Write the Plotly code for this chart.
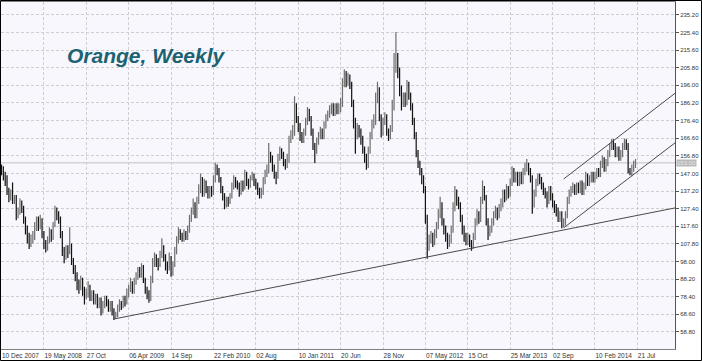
import pandas as pd
import plotly.graph_objects as go

# ---------------- data (weekly Orange juice) ----------------
start_date = "2007-12-10"
n_weeks = 345

opens = [
    150,148,146,142,137,134,136,132,133,124,126,130,127,121,116,112,108,110,112,117,120,118,121,
    113,108,106,110,114,111,118,126,124,122,113,104,101,105,103,107,98,94,90,86,84,88,82,
    79,80,84,78,80,76,78,74,76,71,74,77,75,72,74,70,67,68,72,74,73,77,75,
    80,83,86,82,87,90,93,91,95,88,82,80,77,88,97,100,98,96,102,106,100,96,95,
    100,92,96,104,110,114,112,111,113,112,116,122,126,130,124,132,138,144,136,142,138,135,138,
    137,144,150,148,144,138,134,130,132,131,134,140,143,141,140,136,141,140,146,142,140,144,146,
    142,140,137,135,137,143,147,149,158,155,150,146,145,156,160,157,153,151,155,166,168,170,185,
    178,172,168,166,170,176,182,178,170,162,160,165,168,170,168,174,178,180,182,184,181,184,182,
    183,186,198,202,198,200,196,186,176,168,172,170,166,160,156,152,160,168,174,176,190,194,178,
    170,176,178,170,168,172,184,206,212,204,194,186,190,186,196,190,184,176,168,158,152,148,144,
    138,122,106,110,112,109,113,118,124,130,120,116,112,108,110,116,128,136,132,130,122,116,112,
    110,112,108,106,112,120,124,122,132,138,134,120,114,116,120,124,126,124,128,130,136,134,138,
    136,142,148,144,146,142,146,143,148,150,152,148,144,130,136,142,145,143,140,137,135,132,138,
    134,130,128,126,122,124,118,120,124,132,136,138,139,137,140,138,141,137,140,146,142,144,146,
    144,146,148,147,152,154,150,153,158,162,164,162,158,160,156,158,162,164,162,148,147,150,152,
]
highs = [
    152,151,148,146,139,138,142,135,135,128,133,132,129,123,118,114,113,115,120,123,123,124,122,
    115,110,112,117,116,120,129,128,126,123,115,106,107,107,117,108,100,96,92,88,90,89,84,
    83,87,85,82,82,80,80,78,78,76,79,79,77,76,76,72,70,74,77,76,79,79,83,
    85,89,87,89,92,95,95,97,96,89,84,82,90,100,103,102,100,104,111,107,102,98,103,
    101,98,106,112,117,116,114,116,115,118,124,128,133,131,134,141,147,145,144,143,140,140,140,
    146,153,152,150,145,140,136,134,134,136,142,146,145,143,142,143,143,149,148,144,146,148,147,
    144,142,139,139,145,149,152,164,159,157,152,148,158,162,161,159,155,158,168,171,174,190,186,
    179,175,170,172,178,184,183,179,172,164,167,170,173,172,176,180,182,185,186,186,186,186,186,
    189,200,205,204,203,202,198,188,178,175,174,172,168,162,158,162,170,177,180,192,198,195,180,
    178,181,180,172,174,188,214,225.7,214,206,196,192,192,199,198,192,186,178,170,160,154,150,146,
    140,124,113,115,114,116,120,127,134,131,122,118,114,113,118,131,140,138,134,131,124,118,114,
    114,113,110,114,122,127,126,134,143,140,135,122,118,122,126,129,128,130,133,138,138,141,140,
    144,151,150,148,148,148,148,150,153,155,153,150,146,138,144,147,147,145,142,139,137,140,140,
    136,132,130,128,126,126,122,126,134,138,140,142,141,142,142,143,143,142,148,147,146,148,148,
    148,150,150,154,157,156,155,160,164,166,166,164,162,162,160,164,166.5,166,164,150,152,154,155,
]
lows = [
    146,143,140,135,131,132,130,130,121,122,124,125,119,113,108,105,106,108,110,115,115,116,111,
    105,103,104,108,109,110,117,121,119,111,101,97,99,100,102,96,91,87,82,80,82,79,74,
    77,78,76,76,74,74,72,72,68,69,72,73,70,70,68,65.5,66,67,70,71,72,73,74,
    78,81,80,80,85,88,89,89,86,80,77,75,76,86,95,95,93,95,100,98,93,91,93,
    89.5,90,95,102,108,110,109,109,110,110,114,120,124,122,122,130,136,134,134,136,133,133,134,
    135,142,146,142,136,132,127,128,128.5,130,133,138,139,138,134,135,137,138,140,138,139,143,140,
    138,135,133,133,135,141,145,147,153,148,144,141,144,154,155,151,149,150,153,164,166,168,175,
    170,165,164,164,168,174,176,168,160,152.8,158,163,166,166,166,172,176,178,180,179,179,180,180,
    181,184,195,195,196,194,184,172,158,166,167,163,158,153,149,150,158,166,172,174,186,176,167,
    168,174,168,165,166,170,182,203,200,190,182,184,184,185,188,182,174,166,156,150,146,141,136,
    119,99.5,104,108,106,107,111,116,122,118,113,109,105,106,108,114,126,129,127,120,113,109,107,
    107,106,104,105,110,118,119,120,130,132,118,110,112,114,118,122,121,122,126,128,131,132,133,
    134,140,142,142,140,140,141,141,146,148,146,142,124.5,128,134,140,141,138,135,133,128,130,132,
    128,125,123,120,120,116.5,117,118,122,130,134,136,135,135,136,136,135,135,138,140,140,142,142,
    142,144,145,145,150,148,148,151,156,160,160,156,156,154,154,156,160,160,147,146,145.5,148,150,
]
closes = [
    148,146,143,137,134,136,132,134,124,126,130,127,121,116,112,108,110,112,117,120,118,121,113,
    108,106,110,114,111,118,126,124,122,113,104,101,105,103,107,98,94,90,86,84,88,82,79,
    80,84,78,80,76,78,74,76,71,74,77,75,72,74,70,67,68,72,74,73,77,75,80,
    83,86,82,87,90,93,91,95,88,82,80,77,88,97,100,98,96,102,106,100,96,95,100,
    92,96,104,110,114,112,111,113,112,116,122,126,130,124,132,138,144,136,142,138,135,138,137,
    144,150,148,144,138,134,130,132,131,134,140,143,141,140,136,141,140,146,142,140,144,146,142,
    140,137,135,137,143,147,149,158,155,150,146,145,156,160,157,153,151,155,166,168,170,185,178,
    172,168,166,170,176,182,178,170,162,160,165,168,170,168,174,178,180,182,184,181,184,182,183,
    186,198,202,198,200,196,186,176,168,172,170,166,160,156,152,160,168,174,176,190,194,178,170,
    176,178,170,168,172,184,206,212,204,194,186,190,186,196,190,184,176,168,158,152,148,144,138,
    122,106,110,112,109,113,118,124,130,120,116,112,108,110,116,128,136,132,130,122,116,112,110,
    112,108,106,112,120,124,122,132,138,134,120,114,116,120,124,126,124,128,130,136,134,138,136,
    142,148,144,146,142,146,143,148,150,152,148,144,130,136,142,145,143,140,137,135,132,138,134,
    130,128,126,122,124,118,120,124,132,136,138,139,137,140,138,141,137,140,146,142,144,146,144,
    146,148,147,152,154,150,153,158,162,164,162,158,160,156,158,162,164,162,148,147,150,152,153,
]

x_tick_dates = ["2007-12-10", "2008-05-19", "2008-10-27", "2009-04-06", "2009-09-14",
                "2010-02-22", "2010-08-02", "2011-01-10", "2011-06-20", "2011-11-28",
                "2012-05-07", "2012-10-15", "2013-03-25", "2013-09-02", "2014-02-10",
                "2014-07-21"]
x_tick_labels = ["10 Dec 2007", "19 May 2008", "27 Oct", "06 Apr 2009", "14 Sep",
                 "22 Feb 2010", "02 Aug", "10 Jan 2011", "20 Jun", "28 Nov",
                 "07 May 2012", "15 Oct", "25 Mar 2013", "02 Sep", "10 Feb 2014",
                 "21 Jul"]
y_tick_values = [58.80, 68.60, 78.40, 88.20, 98.00, 107.80, 117.60, 127.40, 137.20,
                 147.00, 156.80, 166.60, 176.40, 186.20, 196.00, 205.80, 215.60,
                 225.40, 235.20]

# trend lines: (start date, start value, end date, end value)
trend_lines = [
    ("2009-02-09", 66.0, "2014-12-11", 127.8),
    ("2013-10-14", 143.9, "2014-12-11", 191.6),
    ("2013-10-14", 116.7, "2014-12-11", 164.0),
]
last_price = 153.0
title_text = "Orange, Weekly"

# ---------------- figure ----------------
dates = pd.date_range(start_date, periods=n_weeks, freq="7D")

W, H = 702, 361
ML, MR, MT, MB = 1, 27, 2, 12
PW, PH = W - ML - MR, H - MT - MB

def px_x(X):
    return (X - ML) / PW

def px_y(Y):
    return (H - MB - Y) / PH

fig = go.Figure()
fig.add_trace(go.Ohlc(
    x=dates, open=opens, high=highs, low=lows, close=closes,
    increasing=dict(line=dict(color="#6e6e6e", width=1.2)),
    decreasing=dict(line=dict(color="#111111", width=1.2)),
    tickwidth=0.35, hoverinfo="skip", showlegend=False,
))

shapes = []
shapes.append(dict(type="line", xref="paper", yref="y", x0=0, x1=1,
                   y0=last_price, y1=last_price,
                   line=dict(color="#d4d4d4", width=1.5), layer="below"))
for (d0, v0, d1, v1) in trend_lines:
    shapes.append(dict(type="line", xref="x", yref="y", x0=d0, y0=v0, x1=d1, y1=v1,
                       line=dict(color="#4a4a4a", width=1)))
shapes.append(dict(type="rect", xref="paper", yref="paper",
                   x0=px_x(0.5), x1=px_x(W - 0.5), y0=px_y(H - 0.5), y1=px_y(0.5),
                   line=dict(color="#000000", width=1)))

fig.update_layout(
    width=W, height=H,
    margin=dict(l=ML, r=MR, t=MT, b=MB, pad=0, autoexpand=False),
    paper_bgcolor="#ffffff", plot_bgcolor="#f7f7fd",
    shapes=shapes,
    showlegend=False,
    hovermode=False,
    font=dict(family="Liberation Sans, Arial, sans-serif", size=6, color="#333333"),
    annotations=[
        dict(text="<b><i>" + title_text + "</i></b>", xref="paper", yref="paper",
             x=px_x(65), y=px_y(56), xanchor="left", yanchor="middle", showarrow=False,
             font=dict(family="Liberation Sans, Arial, sans-serif", size=21, color="#1b6272")),
        dict(text=f"{last_price:.2f}", xref="paper", yref="y", x=1, y=last_price,
             xanchor="left", yanchor="middle", showarrow=False, xshift=1,
             bgcolor="#b8b8b8", borderpad=0,
             font=dict(size=6, color="#e8e8e8")),
    ],
)

fig.update_xaxes(
    type="date", range=["2007-12-08 02:00", "2014-12-11"],
    rangeslider=dict(visible=False), automargin=False, tickangle=0,
    tickmode="array", tickvals=x_tick_dates, ticktext=x_tick_labels,
    ticklabelposition="outside right", ticks="",
    showgrid=True, gridcolor="#cfcfcf", griddash="3px,2px", gridwidth=1,
    showline=True, linecolor="#808080", mirror=True, zeroline=False,
    tickfont=dict(size=6.5, color="#333333"),
)
fig.update_yaxes(
    side="right", range=[49.3, 242.4], automargin=False,
    tickmode="array", tickvals=y_tick_values, tickformat=".2f",
    ticks="outside", ticklen=3, tickcolor="#555555",
    showgrid=True, gridcolor="#cfcfcf", griddash="3px,2px", gridwidth=1,
    showline=True, linecolor="#555555", mirror=True, zeroline=False,
    tickfont=dict(size=6, color="#333333"),
)

fig.write_html(
    "out.html",
    config={"displayModeBar": False, "staticPlot": True},
    post_script="document.body.style.margin='0px';document.body.style.overflow='hidden';",
)
